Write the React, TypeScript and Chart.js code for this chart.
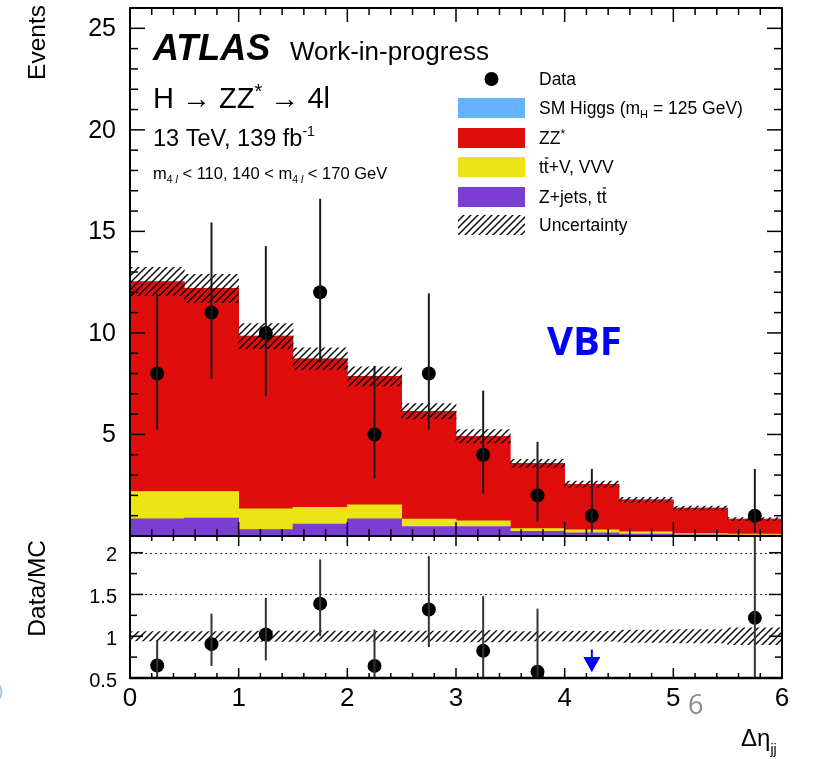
import React, { useEffect, useRef } from 'react';
import { Chart, registerables } from 'chart.js';

Chart.register(...registerables);

// ---------- data ----------
const binCenters = [0.25, 0.75, 1.25, 1.75, 2.25, 2.75, 3.25, 3.75, 4.25, 4.75, 5.25, 5.75];
const zjetsTT = [0.85, 0.88, 0.31, 0.59, 0.85, 0.47, 0.47, 0.23, 0.15, 0.1, 0.06, 0.04];
const ttVVVV = [1.34, 1.31, 1.03, 0.82, 0.69, 0.36, 0.28, 0.13, 0.15, 0.1, 0.06, 0.05];
const zzStar = [10.34, 10.0, 8.5, 7.32, 6.32, 5.31, 4.16, 3.22, 2.25, 1.58, 1.25, 0.74];
const smHiggs = [0, 0, 0, 0, 0, 0, 0, 0, 0, 0, 0, 0];
const mcUncertainty = [0.7, 0.7, 0.62, 0.53, 0.47, 0.38, 0.33, 0.2, 0.15, 0.13, 0.1, 0.08];

const dataCounts = [8, 11, 10, 12, 5, 8, 4, 2, 1, null, null, 1];
const dataErrDown = [2.76, 3.26, 3.11, 3.44, 2.16, 2.76, 1.91, 1.29, 0.83, null, null, 0.83];
const dataErrUp = [3.95, 4.44, 4.27, 4.61, 3.38, 3.95, 3.16, 2.64, 2.3, null, null, 2.3];

const ratioValues = [0.65, 0.905, 1.02, 1.39, 0.645, 1.32, 0.825, 0.575, null, null, null, 1.22];
const ratioErrDown = [0.22, 0.26, 0.31, 0.39, 0.28, 0.45, 0.4, 0.38, null, null, null, 1.0];
const ratioErrUp = [0.3, 0.365, 0.44, 0.53, 0.435, 0.64, 0.655, 0.755, null, null, null, 2.7];
const ratioRelUnc = [0.056, 0.057, 0.063, 0.061, 0.06, 0.062, 0.067, 0.056, 0.06, 0.073, 0.08, 0.1];
const ratioArrowX = [4.25];

const xTickLabels = ['0', '1', '2', '3', '4', '5', '6'];
const yTickLabels = ['5', '10', '15', '20', '25'];
const ratioTickLabels = ['0.5', '1', '1.5', '2'];

const FONT = '"Liberation Sans", Arial, Helvetica, sans-serif';
const COL_ZJ = '#7a3fd1';
const COL_TTV = '#ece414';
const COL_ZZ = '#e00d0d';
const COL_H = '#66b2ff';

type Part = { t: string; size: number; dy?: number; bold?: boolean; italic?: boolean; overline?: boolean };

function rich(ctx: CanvasRenderingContext2D, parts: Part[], x: number, y: number, color = '#000') {
  let cx = x;
  ctx.fillStyle = color;
  ctx.textAlign = 'left';
  ctx.textBaseline = 'alphabetic';
  for (const p of parts) {
    ctx.font = `${p.italic ? 'italic ' : ''}${p.bold ? 'bold ' : ''}${p.size}px ${FONT}`;
    const yy = y + (p.dy || 0);
    ctx.fillText(p.t, cx, yy);
    const w = ctx.measureText(p.t).width;
    if (p.overline) {
      ctx.save();
      ctx.strokeStyle = color;
      ctx.lineWidth = 1.2;
      ctx.beginPath();
      ctx.moveTo(cx + 1, yy - p.size * 0.86);
      ctx.lineTo(cx + w - 0.5, yy - p.size * 0.86);
      ctx.stroke();
      ctx.restore();
    }
    cx += w;
  }
}

function makeHatch(): CanvasPattern | string {
  const c = document.createElement('canvas');
  c.width = 7;
  c.height = 7;
  const g = c.getContext('2d');
  if (!g) return 'rgba(0,0,0,0.3)';
  g.strokeStyle = '#000';
  g.lineWidth = 1.4;
  g.beginPath();
  g.moveTo(-1, 8);
  g.lineTo(8, -1);
  g.moveTo(-1, 1);
  g.lineTo(1, -1);
  g.moveTo(6, 8);
  g.lineTo(8, 6);
  g.stroke();
  return g.createPattern(c, 'repeat') || '#888';
}

function line(ctx: CanvasRenderingContext2D, x1: number, y1: number, x2: number, y2: number) {
  ctx.beginPath();
  ctx.moveTo(x1, y1);
  ctx.lineTo(x2, y2);
  ctx.stroke();
}

const barCommon = {
  barPercentage: 1,
  categoryPercentage: 1,
  grouped: false,
  borderWidth: 0,
};

export default function App() {
  const mainRef = useRef<HTMLCanvasElement>(null);
  const ratioRef = useRef<HTMLCanvasElement>(null);

  useEffect(() => {
    if (!mainRef.current || !ratioRef.current) return;
    const hatch = makeHatch();
    const total = binCenters.map((_, i) => zjetsTT[i] + ttVVVV[i] + zzStar[i] + smHiggs[i]);

    const mainPlugin = {
      id: 'mainDecor',
      afterDatasetsDraw(chart: any) {
        const { ctx, scales, chartArea: a } = chart;
        const x = scales.x, y = scales.y;
        ctx.save();
        ctx.beginPath();
        ctx.rect(a.left, a.top, a.right - a.left, a.bottom - a.top);
        ctx.clip();
        ctx.strokeStyle = '#1a1a1a';
        ctx.lineWidth = 2;
        binCenters.forEach((c, i) => {
          const v = dataCounts[i];
          if (v == null) return;
          const px = x.getPixelForValue(c);
          line(ctx, px, y.getPixelForValue(v - (dataErrDown[i] as number)), px, y.getPixelForValue(v + (dataErrUp[i] as number)));
        });
        ctx.restore();
      },
      afterDraw(chart: any) {
        const { ctx, scales, chartArea: a } = chart;
        const x = scales.x, y = scales.y;
        ctx.save();
        // ticks
        ctx.strokeStyle = '#000';
        ctx.lineWidth = 1.5;
        for (let i = 0; i <= 30; i++) {
          const v = i * 0.2;
          const px = x.getPixelForValue(v);
          const len = i % 5 === 0 ? 14 : 7;
          line(ctx, px, a.bottom, px, a.bottom - len);
          line(ctx, px, a.top, px, a.top + len);
        }
        for (let v = 0; v <= 26; v++) {
          const py = y.getPixelForValue(v);
          const len = v % 5 === 0 ? 15 : 8;
          line(ctx, a.left, py, a.left + len, py);
          line(ctx, a.right, py, a.right - len, py);
        }
        // frame
        ctx.lineWidth = 2;
        ctx.strokeRect(a.left, a.top, a.right - a.left, a.bottom - a.top);
        // y tick labels
        ctx.fillStyle = '#000';
        ctx.font = `25px ${FONT}`;
        ctx.textAlign = 'right';
        ctx.textBaseline = 'middle';
        yTickLabels.forEach((t) => {
          ctx.fillText(t, a.left - 14, y.getPixelForValue(parseFloat(t)) + 1);
        });
        // y title
        ctx.save();
        ctx.translate(45, 5);
        ctx.rotate(-Math.PI / 2);
        ctx.font = `24.5px ${FONT}`;
        ctx.textAlign = 'right';
        ctx.textBaseline = 'alphabetic';
        ctx.fillText('Events', 0, 0);
        ctx.restore();
        // header texts
        rich(ctx, [{ t: 'ATLAS', size: 36, bold: true, italic: true }], 153, 60);
        rich(ctx, [{ t: 'Work-in-progress', size: 26 }], 290, 60);
        rich(ctx, [{ t: 'H \u2192 ZZ', size: 29 }, { t: '*', size: 20, dy: -10 }, { t: ' \u2192 4l', size: 29 }], 153, 108);
        rich(ctx, [{ t: '13 TeV, 139 fb', size: 23.5 }, { t: '-1', size: 14, dy: -10 }], 153, 146);
        rich(
          ctx,
          [
            { t: 'm', size: 16.5 },
            { t: '4', size: 10.5, dy: 4 },
            { t: ' l', size: 10.5, dy: 4, italic: true },
            { t: ' < 110, 140 < m', size: 16.5 },
            { t: '4', size: 10.5, dy: 4 },
            { t: ' l', size: 10.5, dy: 4, italic: true },
            { t: ' < 170 GeV', size: 16.5 },
          ],
          153,
          179
        );
        // legend
        const rows = [79, 108, 138, 167, 197, 225];
        const sx = 458, sw = 67, sh = 20, tx = 539;
        ctx.fillStyle = '#000';
        ctx.beginPath();
        ctx.arc(sx + sw / 2, rows[0], 7, 0, Math.PI * 2);
        ctx.fill();
        const swatches: [number, any][] = [
          [1, COL_H],
          [2, COL_ZZ],
          [3, COL_TTV],
          [4, COL_ZJ],
          [5, hatch],
        ];
        swatches.forEach(([r, c]) => {
          ctx.fillStyle = c;
          ctx.fillRect(sx, rows[r] - sh / 2, sw, sh);
        });
        const ts = 17.5;
        rich(ctx, [{ t: 'Data', size: ts }], tx, rows[0] + 6);
        rich(ctx, [{ t: 'SM Higgs (m', size: ts }, { t: 'H', size: 11, dy: 4 }, { t: ' = 125 GeV)', size: ts }], tx, rows[1] + 6);
        rich(ctx, [{ t: 'ZZ', size: ts }, { t: '*', size: 12, dy: -6 }], tx, rows[2] + 6);
        rich(ctx, [{ t: 't', size: ts }, { t: 't', size: ts, overline: true }, { t: '+V, VVV', size: ts }], tx, rows[3] + 6);
        rich(ctx, [{ t: 'Z+jets, t', size: ts }, { t: 't', size: ts, overline: true }], tx, rows[4] + 6);
        rich(ctx, [{ t: 'Uncertainty', size: ts }], tx, rows[5] + 6);
        // VBF overlay
        ctx.fillStyle = '#0000ff';
        ctx.font = `bold 40px "Open Sans", ${FONT}`;
        ctx.textAlign = 'left';
        ctx.textBaseline = 'alphabetic';
        ctx.fillText('VBF', 547, 355);
        // page number overlay
        ctx.fillStyle = '#8c8c8c';
        ctx.font = `27px "Open Sans", ${FONT}`;
        ctx.fillText('6', 688, 714);
        // slide artifact at left edge
        ctx.strokeStyle = '#9cc8e8';
        ctx.lineWidth = 2;
        ctx.beginPath();
        ctx.arc(-9, 692, 10.5, -0.9, 0.9);
        ctx.stroke();
        ctx.restore();
      },
    };

    const main = new Chart(mainRef.current, {
      type: 'bar',
      data: {
        datasets: [
          {
            type: 'line',
            label: 'Data',
            data: binCenters.map((c, i) => ({ x: c, y: dataCounts[i] })),
            showLine: false,
            pointRadius: 7,
            pointHoverRadius: 7,
            pointBackgroundColor: '#000',
            pointBorderColor: '#000',
            pointBorderWidth: 0,
            borderColor: '#000',
            stack: 'data',
          } as any,
          {
            label: 'Uncertainty',
            data: binCenters.map((c, i) => ({ x: c, y: [total[i] - mcUncertainty[i], total[i] + mcUncertainty[i]] })),
            backgroundColor: hatch,
            stack: 'unc',
            ...barCommon,
          },
          { label: 'Z+jets, tt', data: binCenters.map((c, i) => ({ x: c, y: zjetsTT[i] })), backgroundColor: COL_ZJ, stack: 'mc', ...barCommon },
          { label: 'ttV, VVV', data: binCenters.map((c, i) => ({ x: c, y: ttVVVV[i] })), backgroundColor: COL_TTV, stack: 'mc', ...barCommon },
          { label: 'ZZ*', data: binCenters.map((c, i) => ({ x: c, y: zzStar[i] })), backgroundColor: COL_ZZ, stack: 'mc', ...barCommon },
          { label: 'SM Higgs', data: binCenters.map((c, i) => ({ x: c, y: smHiggs[i] })), backgroundColor: COL_H, stack: 'mc', ...barCommon },
        ] as any,
      },
      options: {
        animation: false,
        responsive: false,
        maintainAspectRatio: false,
        events: [],
        layout: { padding: { left: 130, top: 8, right: 31, bottom: 223 } },
        scales: {
          x: { type: 'linear', min: 0, max: 6, offset: false, display: false, ticks: { stepSize: 1 } },
          y: { type: 'linear', min: 0, max: 26, stacked: true, display: false },
        },
        plugins: { legend: { display: false }, tooltip: { enabled: false } },
      } as any,
      plugins: [mainPlugin],
    });

    const ratioPlugin = {
      id: 'ratioDecor',
      beforeDatasetsDraw(chart: any) {
        const { ctx, scales, chartArea: a } = chart;
        const y = scales.y;
        ctx.save();
        ctx.strokeStyle = '#333';
        ctx.lineWidth = 1;
        ctx.setLineDash([2, 3]);
        [1.5, 2].forEach((v) => {
          const py = Math.round(y.getPixelForValue(v)) + 0.5;
          line(ctx, a.left, py, a.right, py);
        });
        ctx.restore();
      },
      afterDatasetsDraw(chart: any) {
        const { ctx, scales, chartArea: a } = chart;
        const x = scales.x, y = scales.y;
        ctx.save();
        ctx.beginPath();
        ctx.rect(a.left, a.top, a.right - a.left, a.bottom - a.top);
        ctx.clip();
        ctx.strokeStyle = '#333';
        ctx.lineWidth = 2;
        binCenters.forEach((c, i) => {
          const v = ratioValues[i];
          if (v == null) return;
          const px = x.getPixelForValue(c);
          line(ctx, px, y.getPixelForValue(v - (ratioErrDown[i] as number)), px, y.getPixelForValue(v + (ratioErrUp[i] as number)));
        });
        // out-of-range arrows
        ctx.strokeStyle = '#0000ff';
        ctx.fillStyle = '#0000ff';
        ratioArrowX.forEach((c) => {
          const px = x.getPixelForValue(c);
          const yTop = y.getPixelForValue(0.84);
          const yHead = y.getPixelForValue(0.75);
          const yTip = y.getPixelForValue(0.57);
          line(ctx, px, yTop, px, yHead);
          ctx.beginPath();
          ctx.moveTo(px - 8.5, yHead);
          ctx.lineTo(px + 8.5, yHead);
          ctx.lineTo(px, yTip);
          ctx.closePath();
          ctx.fill();
        });
        ctx.restore();
      },
      afterDraw(chart: any) {
        const { ctx, scales, chartArea: a } = chart;
        const x = scales.x, y = scales.y;
        ctx.save();
        ctx.strokeStyle = '#000';
        ctx.lineWidth = 1.5;
        for (let i = 0; i <= 30; i++) {
          const px = x.getPixelForValue(i * 0.2);
          const len = i % 5 === 0 ? 10 : 5;
          line(ctx, px, a.bottom, px, a.bottom - len);
          line(ctx, px, a.top, px, a.top + len);
        }
        for (let i = 0; i <= 6; i++) {
          const v = 0.5 + i * 0.25;
          const py = y.getPixelForValue(v);
          const len = i % 2 === 0 ? 13 : 7;
          line(ctx, a.left, py, a.left + len, py);
          line(ctx, a.right, py, a.right - len, py);
        }
        ctx.lineWidth = 2;
        ctx.strokeRect(a.left, a.top, a.right - a.left, a.bottom - a.top);
        ctx.lineWidth = 2.5;
        line(ctx, a.left, a.bottom, a.right, a.bottom);
        // labels
        ctx.fillStyle = '#000';
        ctx.font = `20px ${FONT}`;
        ctx.textAlign = 'right';
        ctx.textBaseline = 'middle';
        ratioTickLabels.forEach((t) => {
          ctx.fillText(t, a.left - 13, y.getPixelForValue(parseFloat(t)) + 3);
        });
        ctx.font = `26px ${FONT}`;
        ctx.textAlign = 'center';
        ctx.textBaseline = 'alphabetic';
        xTickLabels.forEach((t) => {
          ctx.fillText(t, x.getPixelForValue(parseFloat(t)), 706);
        });
        // titles
        ctx.save();
        ctx.translate(45, 540);
        ctx.rotate(-Math.PI / 2);
        ctx.font = `24.5px ${FONT}`;
        ctx.textAlign = 'right';
        ctx.fillText('Data/MC', 0, 0);
        ctx.restore();
        rich(ctx, [{ t: '\u0394\u03b7', size: 24 }, { t: 'jj', size: 14, dy: 8 }], 741, 746);
        ctx.restore();
      },
    };

    const ratio = new Chart(ratioRef.current, {
      type: 'bar',
      data: {
        datasets: [
          {
            type: 'line',
            label: 'Data/MC',
            data: binCenters.map((c, i) => ({ x: c, y: ratioValues[i] })),
            showLine: false,
            pointRadius: 7,
            pointHoverRadius: 7,
            pointBackgroundColor: '#000',
            pointBorderColor: '#000',
            pointBorderWidth: 0,
            borderColor: '#000',
          } as any,
          {
            label: 'Uncertainty',
            data: binCenters.map((c, i) => ({ x: c, y: [1 - ratioRelUnc[i], 1 + ratioRelUnc[i]] })),
            backgroundColor: hatch,
            ...barCommon,
          },
        ] as any,
      },
      options: {
        animation: false,
        responsive: false,
        maintainAspectRatio: false,
        events: [],
        layout: { padding: { left: 130, top: 536, right: 31, bottom: 81 } },
        scales: {
          x: { type: 'linear', min: 0, max: 6, offset: false, display: false, ticks: { stepSize: 1 } },
          y: { type: 'linear', min: 0.5, max: 2.2, display: false },
        },
        plugins: { legend: { display: false }, tooltip: { enabled: false } },
      } as any,
      plugins: [ratioPlugin],
    });

    return () => {
      main.destroy();
      ratio.destroy();
    };
  }, []);

  const cv: React.CSSProperties = { position: 'absolute', left: 0, top: 0, width: 813, height: 759 };
  return (
    <div style={{ position: 'absolute', left: 0, top: 0, width: 813, height: 759, background: '#fff' }}>
      <canvas ref={mainRef} width={813} height={759} style={cv} />
      <canvas ref={ratioRef} width={813} height={759} style={cv} />
    </div>
  );
}
